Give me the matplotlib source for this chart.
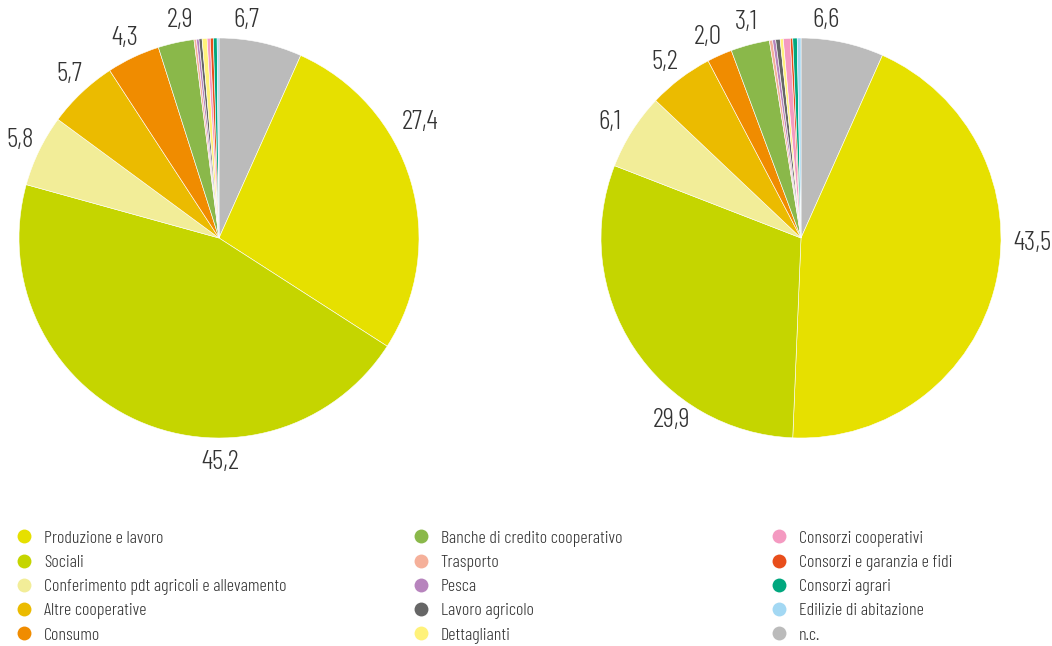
import matplotlib
matplotlib.use("Agg")
import matplotlib.pyplot as plt
from matplotlib.lines import Line2D

plt.rcParams['font.family'] = ['Barlow Condensed', 'DejaVu Sans']
plt.rcParams['font.weight'] = 300

# categories, in legend order
categories = [
    "Produzione e lavoro", "Sociali", "Conferimento pdt agricoli e allevamento",
    "Altre cooperative", "Consumo", "Banche di credito cooperativo",
    "Trasporto", "Pesca", "Lavoro agricolo", "Dettaglianti",
    "Consorzi cooperativi", "Consorzi e garanzia e fidi", "Consorzi agrari",
    "Edilizie di abitazione", "n.c.",
]
colors = [
    "#e6e000", "#c5d500", "#f2ed98", "#ebbb00", "#f08c00", "#8ab84a",
    "#f5b09a", "#b784bd", "#666666", "#fff27a",
    "#f49ac1", "#e84e1b", "#00a77e", "#a3d8f3", "#bbbbbb",
]

# shares (%) for the two pies
left_values = [27.4, 45.2, 5.8, 5.7, 4.3, 2.9,
               0.2, 0.2, 0.25, 0.4, 0.25, 0.25, 0.3, 0.15, 6.7]
right_values = [43.5, 29.9, 6.1, 5.2, 2.0, 3.1,
                0.25, 0.25, 0.35, 0.25, 0.55, 0.2, 0.35, 0.3, 6.6]

# which slices get a value label (index into categories)
labelled = [14, 0, 1, 2, 3, 4, 5]
# label positions in pie units (centre 0,0 radius 1)
left_label_pos = [(0.135, 1.09), (1.005, 0.58), (0.005, -1.12), (-0.995, 0.49),
                  (-0.75, 0.82), (-0.47, 1.0), (-0.195, 1.09)]
right_label_pos = [(0.125, 1.09), (1.155, -0.025), (-0.645, -0.91), (-0.955, 0.58),
                   (-0.68, 0.88), (-0.465, 1.005), (-0.275, 1.08)]

W, H = 1052, 646
fig = plt.figure(figsize=(W / 100, H / 100), dpi=100)


def draw_pie(cx, cy, r, values, label_pos):
    ax = fig.add_axes([(cx - r) / W, (H - cy - r) / H, 2 * r / W, 2 * r / H])
    # n.c. goes first so it sits just right of twelve o'clock
    order = [14] + list(range(14))
    ax.pie([values[i] for i in order], colors=[colors[i] for i in order],
           startangle=90, counterclock=False, radius=1,
           wedgeprops=dict(edgecolor="white", linewidth=0.4))
    ax.set_xlim(-1, 1)
    ax.set_ylim(-1, 1)
    ax.set_aspect("equal")
    ax.axis("off")
    for idx, (x, y) in zip(labelled, label_pos):
        txt = f"{values[idx]:.1f}".replace(".", ",")
        ax.text(x, y, txt, ha="center", va="center", fontsize=20,
                color="#333333", clip_on=False)


draw_pie(219, 238, 200, left_values, left_label_pos)
draw_pie(801, 238, 200, right_values, right_label_pos)

# legend, three columns of five
col_x = [15, 412, 770]
for c in range(3):
    handles = [Line2D([], [], marker="o", ls="", markersize=10,
                      markerfacecolor=colors[i], markeredgecolor="none")
               for i in range(c * 5, c * 5 + 5)]
    labels = categories[c * 5:c * 5 + 5]
    fig.legend(handles, labels, loc="upper left",
               bbox_to_anchor=(col_x[c] / W, (H - 530) / H),
               frameon=False, fontsize=13, labelcolor="#333333",
               handlelength=1.0, handletextpad=0.6, labelspacing=0.42,
               borderaxespad=0, borderpad=0)

fig.savefig("out.png", dpi=100)
